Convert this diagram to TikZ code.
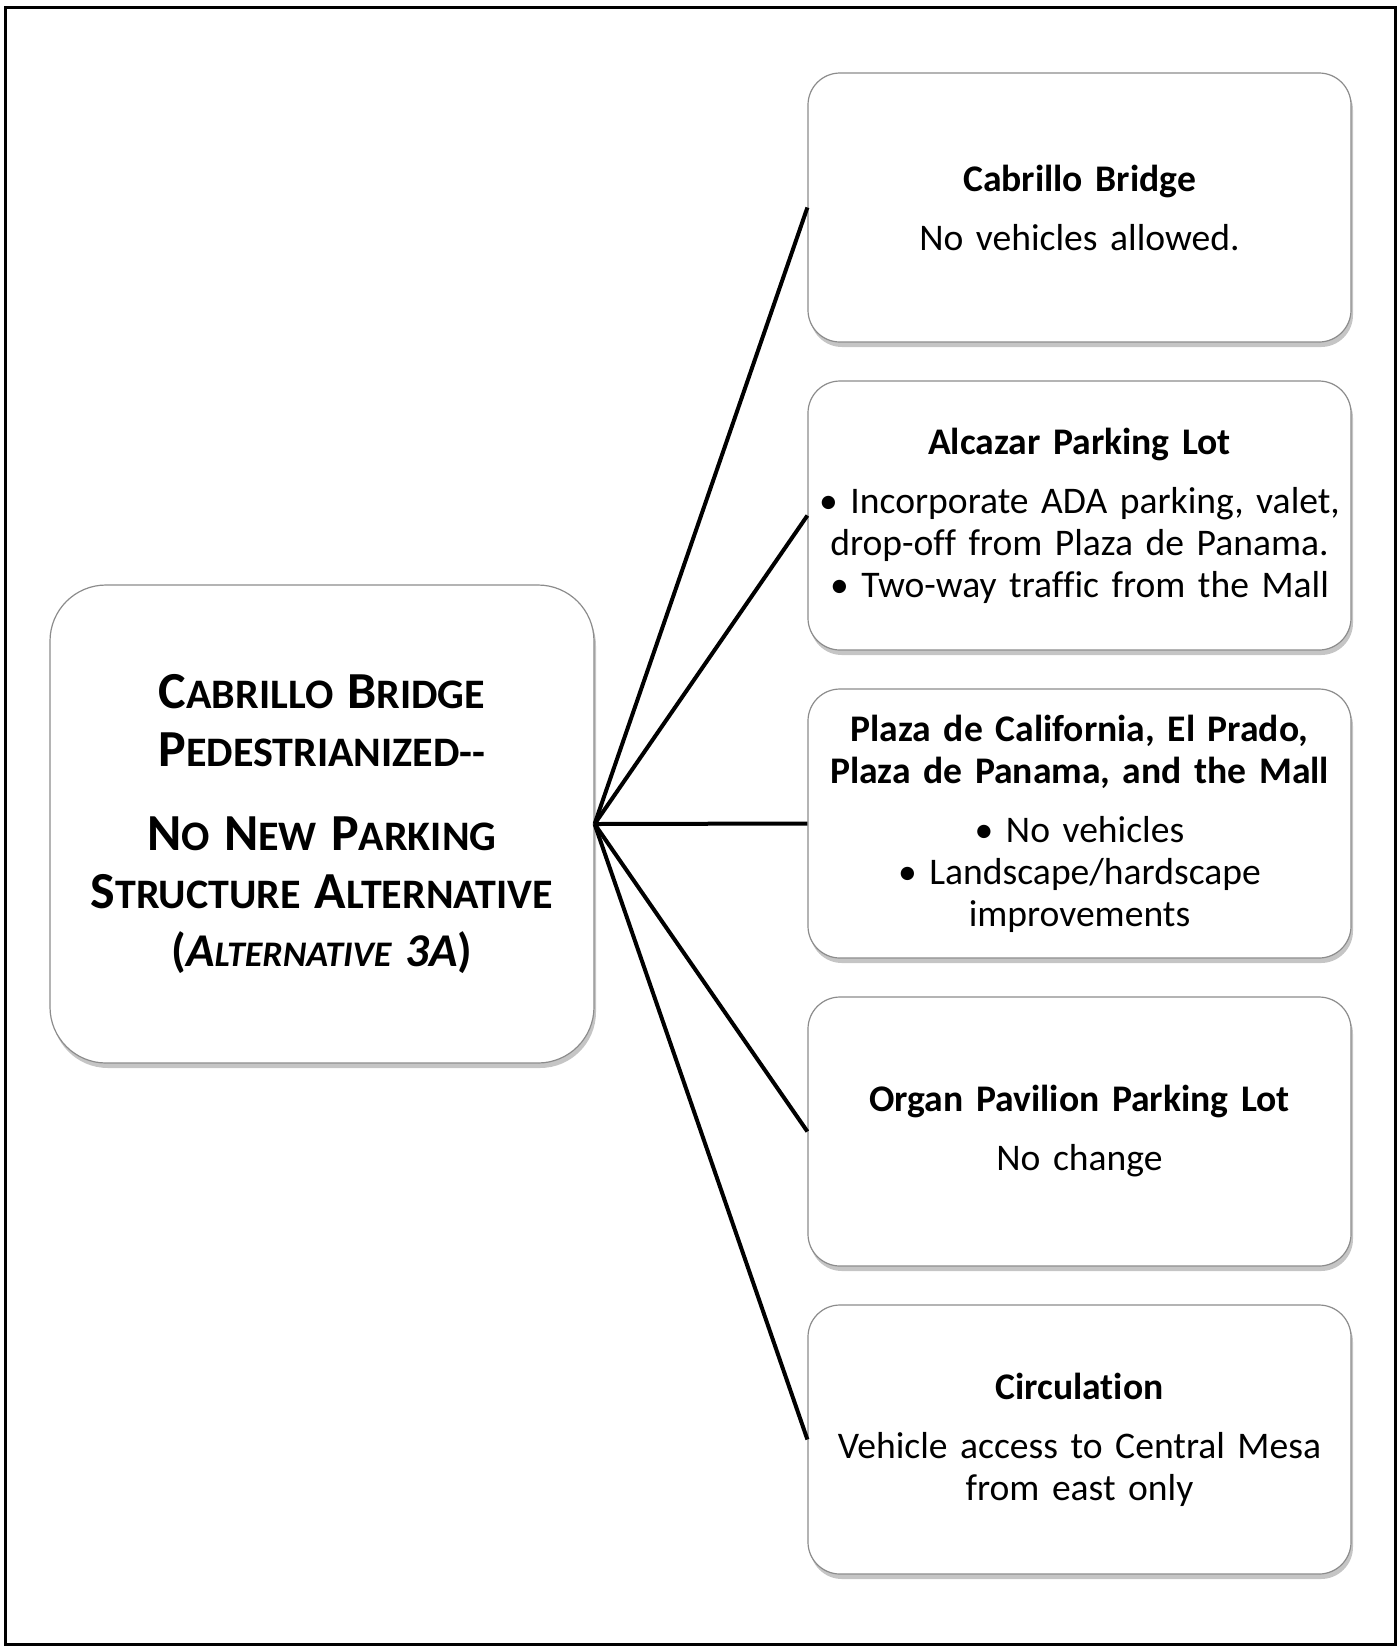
\documentclass[tikz,border=0pt]{standalone}
\usepackage{fontspec}
\setmainfont{Carlito}[Ligatures = {TeX, CommonOff}]
\usetikzlibrary{shadows}
\newcommand\capbig[1]{{\fontsize{26pt}{29pt}\selectfont #1}}
\newcommand\capit[1]{{\fontsize{23.5pt}{27pt}\selectfont #1}}

\begin{document}
\begin{tikzpicture}[x = 0.5pt, y = -0.5pt,
  panel/.style = {draw = black!45, fill = white, line width = 0.6pt, drop shadow = {shadow xshift = 1pt, shadow yshift = -2.5pt, fill = black!45, opacity = 0.5}},
  item/.style = {panel, rounded corners = 16pt, text width = 265.5pt, minimum height = 134.5pt, inner sep = 3pt, align = center, font = \fontsize{18.8pt}{21pt}\selectfont},
  link/.style = {draw = black, line width = 2pt}]
\pgfmathsetmacro\colx{1079.5};
\pgfmathsetmacro\rowgap{308};
\useasboundingbox (0,0) rectangle (1400,1646);
\draw[line width = 1.5pt] (5,7) rectangle (1395,1644);
% the alternative
\node[panel, rounded corners = 28pt, text width = 266pt, minimum height = 239pt, inner sep = 3pt, align = center, font = \fontsize{21pt}{29pt}\selectfont\bfseries] (alt) at (322,824)
  {\capbig{C}ABRILLO \capbig{B}RIDGE\\
   \capbig{P}EDESTRIANIZED-{}-\\[13pt]
   \capbig{N}O \capbig{N}EW \capbig{P}ARKING\\
   \capbig{S}TRUCTURE \capbig{A}LTERNATIVE\\
   \capit{(\textit{A{\fontsize{18pt}{27pt}\selectfont LTERNATIVE} 3A})}};
% the five parts
\node[item] (bridge) at (\colx,207.5)
  {\textbf{Cabrillo Bridge}\\[8.5pt] No vehicles allowed.};
\node[item] (alcazar) at (\colx,207.5+\rowgap)
  {\textbf{Alcazar Parking Lot}\\[8.5pt]
   \textbullet{} Incorporate ADA parking, valet,\\
   drop-off from Plaza de Panama.\\
   \textbullet{} Two-way traffic from the Mall};
\node[item] (prado) at (\colx,207.5+2*\rowgap)
  {\textbf{Plaza de California, El Prado,}\\
   \textbf{Plaza de Panama, and the Mall}\\[8.5pt]
   \textbullet{} No vehicles\\
   \textbullet{} Landscape/hardscape\\
   improvements};
\node[item] (organ) at (\colx,207.5+3*\rowgap)
  {\textbf{Organ Pavilion Parking Lot}\\[8.5pt] No change};
\node[item] (circ) at (\colx,207.5+4*\rowgap)
  {\textbf{Circulation}\\[8.5pt]
   Vehicle access to Central Mesa\\
   from east only};
\foreach \b in {bridge, alcazar, prado, organ, circ} \draw[link] (alt.east) -- (\b.west);
\end{tikzpicture}
\end{document}
